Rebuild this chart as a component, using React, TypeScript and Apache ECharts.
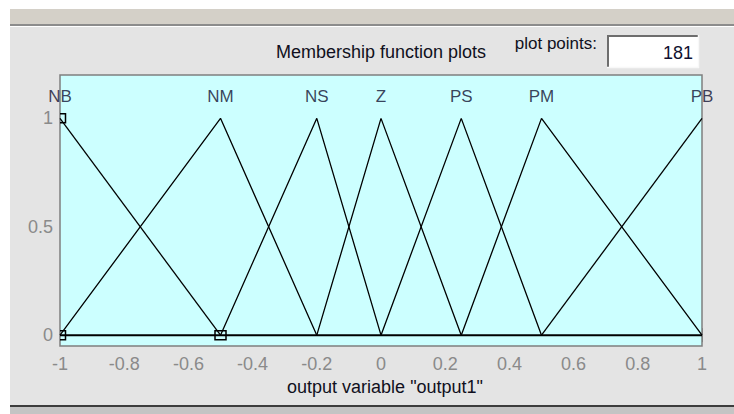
import React, { useEffect, useRef } from "react";
import * as echarts from "echarts";

// Membership functions (triangular): feet a, c and peak b
const mfNames = ["NB", "NM", "NS", "Z", "PS", "PM", "PB"];
const mfA = [-1, -1, -0.5, -0.2, 0, 0.25, 0.5];
const mfB = [-1, -0.5, -0.2, 0, 0.25, 0.5, 1];
const mfC = [-0.5, -0.2, 0, 0.25, 0.5, 1, 1];

// Selected MF vertex markers (NB)
const markerPoints = [
  [-1, 0],
  [-1, 1],
  [-0.5, 0],
];

const xTickLabels = ["-1", "-0.8", "-0.6", "-0.4", "-0.2", "0", "0.2", "0.4", "0.6", "0.8", "1"];
const yTickValues = [0, 0.5, 1];
const yTickLabels = ["0", "0.5", "1"];

const titleText = "Membership function plots";
const plotPointsLabel = "plot points:";
const plotPointsValue = "181";
const xAxisTitle = 'output variable "output1"';

const FONT = "'Liberation Sans', Arial, sans-serif";

export default function App() {
  const ref = useRef<HTMLDivElement>(null);

  useEffect(() => {
    if (!ref.current) return;
    const chart = echarts.init(ref.current, undefined, { renderer: "svg" });

    const mfSeries = mfNames.map((name, i) => {
      const a = mfA[i], b = mfB[i], c = mfC[i];
      const pts: number[][] = [];
      pts.push([a, a === b ? 1 : 0]);
      if (a !== b && b !== c) pts.push([b, 1]);
      pts.push([c, c === b ? 1 : 0]);
      return {
        type: "line",
        name,
        data: pts,
        symbol: "none",
        clip: true,
        lineStyle: { color: "#000000", width: 1.3 },
        z: 3,
      };
    });

    const tickColor = "#808080";
    const labelColor = "#8a8a8a";

    const option: any = {
      animation: false,
      backgroundColor: "#ffffff",
      grid: {
        left: 60,
        right: 32,
        top: 75,
        bottom: 68,
        show: true,
        backgroundColor: "#ccffff",
        borderColor: "#7f7f7f",
        borderWidth: 1.5,
        z: 1,
      },
      xAxis: [
        {
          type: "value",
          min: -1,
          max: 1,
          interval: 0.2,
          position: "bottom",
          axisLine: { show: false },
          splitLine: { show: false },
          axisTick: { show: true, inside: true, length: 7, lineStyle: { color: tickColor, width: 1 } },
          axisLabel: {
            color: labelColor,
            fontSize: 18,
            fontFamily: FONT,
            margin: 9,
            formatter: (v: number) => xTickLabels[Math.round((v + 1) / 0.2)] ?? "",
          },
        },
        {
          type: "value",
          min: -1,
          max: 1,
          interval: 0.2,
          position: "top",
          axisLine: { show: false },
          splitLine: { show: false },
          axisTick: { show: true, inside: true, length: 7, lineStyle: { color: tickColor, width: 1 } },
          axisLabel: { show: false },
        },
      ],
      yAxis: [
        {
          type: "value",
          min: -0.05,
          max: 1.2,
          position: "left",
          axisLine: { show: false },
          splitLine: { show: false },
          axisTick: {
            show: true,
            inside: true,
            length: 6,
            customValues: yTickValues,
            lineStyle: { color: tickColor, width: 1 },
          },
          axisLabel: {
            color: labelColor,
            fontSize: 18,
            fontFamily: FONT,
            margin: 7,
            customValues: yTickValues,
            formatter: (v: number) => {
              const idx = yTickValues.findIndex((t) => Math.abs(t - v) < 1e-9);
              return idx >= 0 ? yTickLabels[idx] : "";
            },
          },
        },
        {
          type: "value",
          min: -0.05,
          max: 1.2,
          position: "right",
          axisLine: { show: false },
          splitLine: { show: false },
          axisTick: {
            show: true,
            inside: true,
            length: 6,
            customValues: yTickValues,
            lineStyle: { color: tickColor, width: 1 },
          },
          axisLabel: { show: false },
        },
      ],
      series: [
        ...mfSeries,
        {
          type: "line",
          name: "baseline",
          data: [
            [-1, 0],
            [1, 0],
          ],
          symbol: "none",
          clip: true,
          lineStyle: { color: "#000000", width: 2 },
          z: 4,
        },
        {
          type: "custom",
          name: "markers",
          clip: true,
          data: markerPoints,
          z: 5,
          renderItem: (params: any, api: any) => {
            const p = api.coord([api.value(0), api.value(1)]);
            return {
              type: "rect",
              shape: { x: p[0] - 5.5, y: p[1] - 4.5, width: 11, height: 9 },
              style: { fill: "none", stroke: "#000000", lineWidth: 1.5 },
            };
          },
        },
        {
          type: "scatter",
          name: "labels",
          data: mfNames.map((n, i) => [mfB[i], 1.1, n]),
          symbolSize: 1,
          itemStyle: { color: "transparent" },
          clip: false,
          z: 6,
          label: {
            show: true,
            position: "inside",
            color: "#101030",
            fontSize: 17,
            fontFamily: FONT,
            formatter: (p: any) => p.value[2],
          },
        },
      ],
      graphic: [
        { type: "rect", z: -10, shape: { x: 10, y: 9, width: 724, height: 15 }, style: { fill: "#d4d0c8" } },
        { type: "rect", z: -10, shape: { x: 10, y: 24, width: 724, height: 2 }, style: { fill: "#8c8c8c" } },
        { type: "rect", z: -10, shape: { x: 10, y: 26, width: 724, height: 1 }, style: { fill: "#ffffff" } },
        { type: "rect", z: -10, shape: { x: 10, y: 27, width: 724, height: 378 }, style: { fill: "#e4e4e4" } },
        { type: "rect", z: -10, shape: { x: 10, y: 405, width: 724, height: 2 }, style: { fill: "#3c3c3c" } },
        { type: "rect", z: -10, shape: { x: 10, y: 407, width: 724, height: 7 }, style: { fill: "#c4c4c4" } },
        // input box
        { type: "rect", z: 10, shape: { x: 607, y: 35, width: 92, height: 33 }, style: { fill: "#ffffff" } },
        { type: "line", z: 11, shape: { x1: 607, y1: 36, x2: 699, y2: 36 }, style: { stroke: "#6e6e6e", lineWidth: 2 } },
        { type: "line", z: 11, shape: { x1: 608, y1: 35, x2: 608, y2: 68 }, style: { stroke: "#6e6e6e", lineWidth: 2 } },
        { type: "line", z: 11, shape: { x1: 607, y1: 67.5, x2: 699, y2: 67.5 }, style: { stroke: "#f8f8f8", lineWidth: 1.5 } },
        { type: "line", z: 11, shape: { x1: 698.5, y1: 35, x2: 698.5, y2: 68 }, style: { stroke: "#f8f8f8", lineWidth: 1.5 } },
        {
          type: "text",
          z: 12,
          x: 693,
          y: 53,
          style: {
            text: plotPointsValue,
            fill: "#101030",
            font: `18px ${FONT}`,
            textAlign: "right",
            textVerticalAlign: "middle",
          },
        },
        {
          type: "text",
          z: 12,
          x: 276,
          y: 52,
          style: {
            text: titleText,
            fill: "#101020",
            font: `18px ${FONT}`,
            textAlign: "left",
            textVerticalAlign: "middle",
          },
        },
        {
          type: "text",
          z: 12,
          x: 597,
          y: 43,
          style: {
            text: plotPointsLabel,
            fill: "#101020",
            font: `17px ${FONT}`,
            textAlign: "right",
            textVerticalAlign: "middle",
          },
        },
        {
          type: "text",
          z: 12,
          x: 385,
          y: 387,
          style: {
            text: xAxisTitle,
            fill: "#101020",
            font: `18px ${FONT}`,
            textAlign: "center",
            textVerticalAlign: "middle",
          },
        },
      ],
    };

    chart.setOption(option);
    return () => chart.dispose();
  }, []);

  return (
    <div
      ref={ref}
      style={{ position: "fixed", left: 0, top: 0, width: 734, height: 414 }}
    />
  );
}
